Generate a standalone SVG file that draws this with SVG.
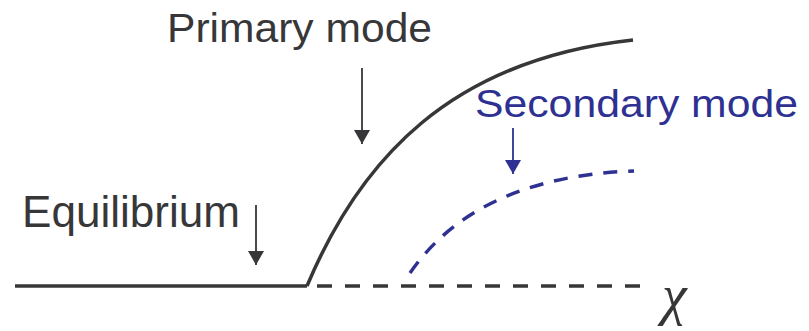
<svg xmlns="http://www.w3.org/2000/svg" width="809" height="331" viewBox="0 0 809 331">
<style>
.lbl{font-family:"Liberation Sans","DejaVu Sans",sans-serif;}
.dark{fill:#373739;}
.blue{fill:#2e3192;}
.curve{fill:none;stroke-width:3.5;stroke-linecap:butt;}
.k{stroke:#373739;}
.b{stroke:#2e3192;}
.arr{stroke-width:1.8;fill:none;}
</style>
<defs>
<marker id="ahk" markerUnits="userSpaceOnUse" markerWidth="14" markerHeight="16" refX="14" refY="8" orient="auto" viewBox="0 0 14 16">
<path d="M0,0 L14,8 L0,16 z" fill="#373739"/>
</marker>
<marker id="ahb" markerUnits="userSpaceOnUse" markerWidth="14" markerHeight="16" refX="14" refY="8" orient="auto" viewBox="0 0 14 16">
<path d="M0,0 L14,8 L0,16 z" fill="#2e3192"/>
</marker>
</defs>
<rect width="809" height="331" fill="#ffffff"/>
<g id="curves">
<line x1="15" y1="286" x2="307" y2="286" class="curve k"/>
<line x1="317" y1="286" x2="641" y2="286" class="curve k" stroke-dasharray="15 13"/>
<path d="M307,286 C360,160 450,60 633,40" class="curve k"/>
<path d="M410,273 C450,215 520,175 634,171" class="curve b" stroke-dasharray="14 11"/>
</g>
<g id="primary-label">
<text x="167" y="42" class="lbl dark" font-size="40" textLength="265" lengthAdjust="spacingAndGlyphs">Primary mode</text>
</g>
<g id="equilibrium-label">
<text x="22" y="227" class="lbl dark" font-size="45" textLength="218" lengthAdjust="spacingAndGlyphs">Equilibrium</text>
</g>
<g id="secondary-label">
<text x="475" y="117" class="lbl blue" font-size="38" textLength="323" lengthAdjust="spacingAndGlyphs">Secondary mode</text>
</g>
<g id="axis-label">
<text x="662" y="314" font-family="Liberation Serif,'DejaVu Serif',serif" font-style="italic" font-size="56" class="dark">χ</text>
</g>
<g id="connectors">
<line x1="362" y1="68" x2="362" y2="144" class="arr k" marker-end="url(#ahk)"/>
<line x1="256" y1="205" x2="256" y2="265" class="arr k" marker-end="url(#ahk)"/>
<line x1="513" y1="128" x2="513" y2="174" class="arr b" marker-end="url(#ahb)"/>
</g>
</svg>
